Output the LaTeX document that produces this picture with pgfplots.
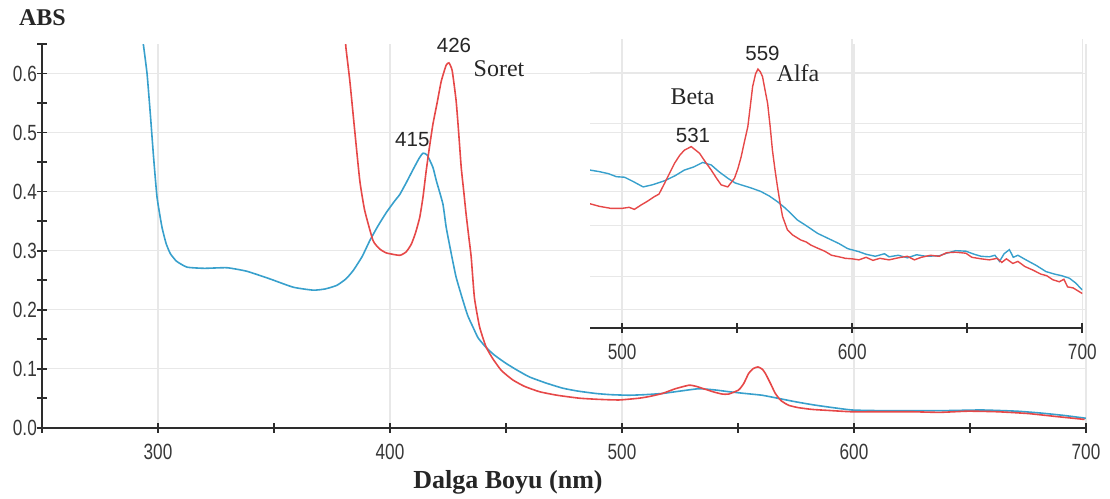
\documentclass[border=0pt]{standalone}
\usepackage{pgfplots}
\pgfplotsset{compat=1.18}
\usepackage{fontspec}
\setmainfont{Liberation Serif}
\newfontfamily\tickfont[FakeStretch=0.78]{Liberation Sans}
\newfontfamily\annfont{Liberation Sans}
\definecolor{cblue}{RGB}{56,160,204}
\definecolor{cred}{RGB}{230,72,72}
\definecolor{gridc}{RGB}{232,232,232}
\definecolor{axc}{RGB}{45,45,45}
\definecolor{labc}{RGB}{55,55,55}
\pgfplotsset{
  common/.style={
    scale only axis,
    axis x line=bottom, axis y line=left,
    axis line style={-, line width=2.4pt, color=axc},
    tick align=center,
    major tick length=10pt, minor tick length=10pt,
    every tick/.style={line width=1.8pt, color=axc},
    grid=major,
    major grid style={line width=1.6pt, color=gridc},
    /pgf/number format/assume math mode=true,
    ticklabel style={font=\tickfont\fontsize{22}{22}\selectfont, text=labc, inner sep=0pt},
    clip=true,
  }
}
\begin{document}
\begin{tikzpicture}
\path[use as bounding box] (0pt,0pt) rectangle (1110pt,498pt);
\begin{axis}[common,
  at={(42pt,70.3pt)}, anchor=south west,
  width=1044pt, height=383.7pt,
  xmin=250, xmax=700, ymin=0, ymax=0.65,
  xtick={300,400,500,600,700},
  minor xtick={250,350,450,550,650},
  ytick={0,0.1,0.2,0.3,0.4,0.5,0.6},
  minor ytick={0.05,0.15,0.25,0.35,0.45,0.55,0.65},
  yticklabel style={/pgf/number format/.cd, fixed, fixed zerofill, precision=1},
  xticklabel shift=11pt,
  yticklabel shift=0pt,
]
\addplot[cblue, line width=1.6pt, smooth, tension=0.3] coordinates {
(293.3,0.66) (293.8,0.646) (295.3,0.599) (296.7,0.531) (298.1,0.458) (299.6,0.390)
(301.7,0.340) (303.5,0.312) (305.3,0.295) (308,0.282) (312.5,0.272) (320,0.270)
(329.7,0.271) (338.3,0.265) (348.3,0.252) (358.3,0.238) (366.9,0.233) (372,0.235)
(377,0.241) (381,0.252) (384.1,0.266) (388,0.290) (391.3,0.317) (395,0.343)
(398.5,0.365) (402,0.384) (404.2,0.395) (407,0.415) (409.9,0.437) (412.5,0.456) (414.2,0.465)
(416,0.462) (418.5,0.441) (420,0.418) (422.8,0.379) (424.2,0.340) (426.4,0.295)
(428.5,0.255) (431.4,0.216) (433.5,0.190) (435.7,0.171) (438,0.152) (441.4,0.136)
(445,0.123) (450,0.109) (455,0.097) (460.1,0.086) (467,0.076) (474.4,0.067)
(481,0.062) (488.7,0.058) (495,0.056) (503,0.055) (510,0.056) (517.4,0.058)
(525,0.062) (533.1,0.066) (540,0.064) (546,0.061) (553,0.058) (560.4,0.055)
(567,0.050) (574.7,0.044) (582,0.039) (589,0.035) (599.1,0.030) (610,0.029)
(625,0.029) (640,0.029) (655,0.030) (670,0.028) (680,0.025) (690,0.021) (700,0.016)
};
\addplot[cred, line width=1.6pt, smooth, tension=0.3] coordinates {
(380.8,0.66) (381,0.644) (382.7,0.587) (384.8,0.503) (387,0.418) (389.1,0.368)
(392.7,0.317) (395.5,0.303) (398.5,0.296) (404.2,0.292) (407,0.298) (409.2,0.311)
(411,0.330) (412.8,0.356) (414.2,0.390) (415.6,0.435) (417,0.475) (418.5,0.514)
(420.3,0.550) (422.1,0.587) (424.2,0.614) (425.4,0.618) (426.8,0.605) (428.5,0.554)
(429.6,0.500) (430.7,0.441) (431.8,0.400) (432.8,0.362) (434,0.322) (435,0.289)
(436.4,0.220) (438.6,0.171) (441.4,0.137) (444.3,0.117) (448,0.097) (452.9,0.081)
(458,0.070) (464.4,0.061) (472,0.055) (481.6,0.050) (490,0.048) (498.8,0.047)
(507.4,0.050) (512,0.053) (517.4,0.058) (523,0.066) (528.9,0.072) (532,0.070)
(536,0.065) (540,0.060) (543.2,0.057) (546,0.057) (550.3,0.064) (552.5,0.075)
(554.6,0.092) (556.5,0.100) (558.6,0.103) (560.5,0.099) (561.8,0.092) (564,0.075)
(566.1,0.058) (568.5,0.046) (571.8,0.038) (576,0.034) (581.9,0.031) (590,0.029)
(599.1,0.027) (612,0.027) (625,0.027) (637,0.026) (649.2,0.028) (662,0.027)
(675,0.024) (687,0.019) (699.4,0.014)
};
\end{axis}
\begin{axis}[common,
  at={(590pt,170.3pt)}, anchor=south west,
  width=492.3pt, height=288.7pt,
  xmin=486, xmax=700, ymin=0, ymax=5.66,
  xtick={500,600,700},
  minor xtick={550,650},
  ytick={1,2,3,4,5},
  yticklabels={},
  y axis line style={draw=none},
  ytick style={draw=none},
  xticklabel shift=11pt,
]
\addplot[cblue, line width=1.4pt] coordinates {
(486,3.09) (490,3.06) (494,3.02) (497.5,2.96) (501,2.95) (505,2.86) (509.1,2.76)
(513,2.80) (518.4,2.88) (523,2.98) (527,3.09) (531,3.15) (535,3.24) (538.7,3.19)
(542,3.06) (545.9,2.93) (549,2.84) (551.7,2.80) (556,2.74) (560.3,2.67) (564,2.58)
(567.5,2.47) (571,2.34) (576.2,2.11) (580,2.00) (584.9,1.85) (590,1.74) (594.2,1.65)
(598,1.55) (602.9,1.49) (606,1.44) (610,1.40) (614,1.45) (616,1.39) (620,1.42)
(624,1.37) (628,1.43) (632,1.40) (637.8,1.41) (641,1.46) (645,1.51) (649.4,1.50)
(653,1.44) (656,1.40) (659.6,1.39) (662,1.42) (664,1.30) (666,1.45) (668.3,1.53)
(670,1.38) (672,1.42) (675.5,1.33) (680,1.22) (684.2,1.10) (688,1.05) (691,1.02)
(694.4,0.97) (697,0.88) (700,0.74)
};
\addplot[cred, line width=1.4pt] coordinates {
(486,2.43) (490,2.38) (495,2.34) (500,2.34) (503,2.36) (505.3,2.32) (508,2.40)
(511,2.48) (514,2.57) (516,2.62) (518.4,2.83) (520.5,3.02) (522.7,3.22) (525,3.38)
(527,3.48) (530,3.55) (533.6,3.42) (536,3.26) (538.7,3.09) (541,2.93) (543,2.80)
(545.9,2.76) (548.8,2.93) (550.3,3.12) (551.7,3.35) (553,3.62) (554.6,3.94)
(555.7,4.35) (556.7,4.73) (558,4.98) (559,5.07) (560,5.02) (561,4.92) (562,4.68)
(563.2,4.40) (564.3,3.95) (565.3,3.48) (566.4,3.10) (567.5,2.76) (568.6,2.45)
(569.7,2.18) (571.8,1.92) (574,1.82) (577.6,1.72) (580,1.68) (582,1.62) (584.9,1.56)
(588,1.50) (591,1.42) (594.2,1.39) (597,1.36) (600,1.35) (602.9,1.33) (606,1.38)
(609,1.32) (612,1.36) (616,1.33) (620,1.37) (624,1.40) (627,1.33) (630,1.38)
(634,1.42) (637.8,1.40) (641,1.47) (645,1.48) (649.4,1.46) (652,1.38) (656,1.35)
(659.6,1.33) (663,1.36) (665,1.28) (667,1.35) (669.8,1.26) (672,1.30) (675,1.20)
(678.5,1.13) (682,1.05) (684.5,1.02) (687.2,0.94) (690,0.90) (692,0.95) (693.6,0.80)
(696,0.78) (700,0.67)
};
\end{axis}
% labels and annotations
\node[anchor=base, inner sep=0pt, font=\bfseries\fontsize{24}{24}\selectfont, text=black!85] at (42.5pt,472pt) {ABS};
\node[anchor=base, inner sep=0pt, font=\bfseries\fontsize{26}{26}\selectfont, text=black!85] at (508pt,9.7pt) {Dalga Boyu (nm)};
\begin{scope}[every node/.style={inner sep=0pt, text=black!85}]
\node[font=\annfont\fontsize{20.5}{20.5}\selectfont] at (454pt,452.7pt) {426};
\node[font=\fontsize{24}{24}\selectfont] at (499pt,429.7pt) {Soret};
\node[font=\annfont\fontsize{20.5}{20.5}\selectfont] at (412.3pt,358pt) {415};
\node[font=\annfont\fontsize{20.5}{20.5}\selectfont] at (762.5pt,444.7pt) {559};
\node[font=\fontsize{24}{24}\selectfont] at (798pt,424.7pt) {Alfa};
\node[font=\fontsize{24}{24}\selectfont] at (692.5pt,401.5pt) {Beta};
\node[font=\annfont\fontsize{20.5}{20.5}\selectfont] at (693pt,362.7pt) {531};
\end{scope}
\end{tikzpicture}
\end{document}
